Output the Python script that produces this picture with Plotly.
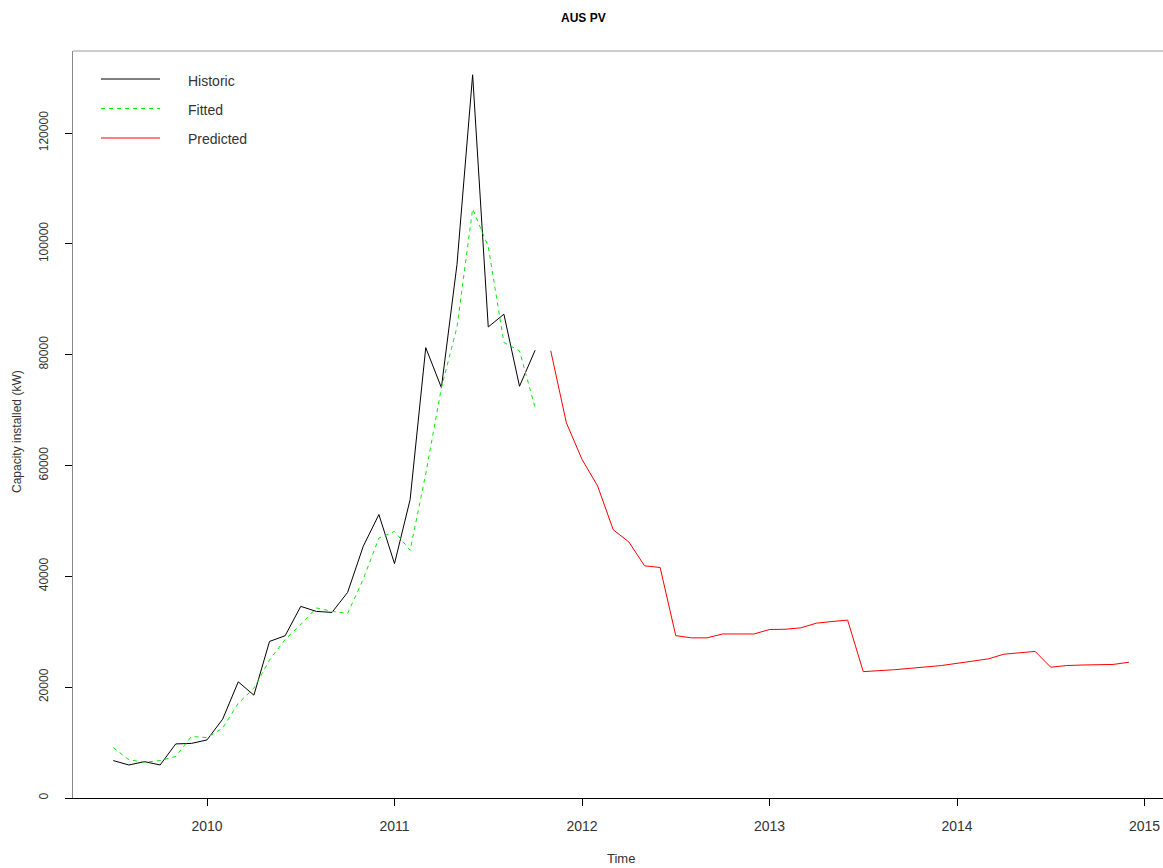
import plotly.graph_objects as go

# Monthly PV capacity installed in Australia (kW)
hist_start = (2009, 7)
historic = [6750, 5960, 6560, 5960, 9760, 9850, 10480, 14220, 20960, 18560,
            28250, 29280, 34580, 33670, 33490, 37110, 45420, 51150, 42290, 53860,
            81270, 74050, 96300, 130500, 85000, 87300, 74300, 80800]
fitted = [9100, 6900, 6450, 6750, 7500, 11100, 10900, 12600, 17100, 19800,
          24900, 28600, 31300, 34300, 33700, 33300, 39500, 46900, 48100, 44700,
          58500, 74000, 85000, 106300, 99500, 82200, 80700, 70400]

pred_start = (2011, 11)
predicted = [80700, 67700, 61100, 56300, 48400, 46200, 41900, 41600, 29300, 28900,
             28900, 29600, 29600, 29600, 30400, 30450, 30700, 31550, 31850, 32100,
             22800, 22950, 23150, 23400, 23600, 23900, 24300, 24700, 25100, 25950,
             26200, 26450, 23600, 23900, 24000, 24050, 24100, 24500]

year_ticks = [2010, 2011, 2012, 2013, 2014, 2015]
y_ticks = [0, 20000, 40000, 60000, 80000, 100000, 120000]
series_names = ["Historic", "Fitted", "Predicted"]
series_colors = ["#000000", "#00ee00", "#ff0000"]


def time_index(start, n):
    """Decimal-year time index for a monthly series."""
    y, m = start
    return [y + (m - 1 + k) / 12 for k in range(n)]


W, H = 1163, 868
L, R, T, B = 73, 0, 51, 70
plot_w, plot_h = W - L - R, H - T - B
FONT = "Liberation Sans, Arial, sans-serif"
TXT = "#333333"

fig = go.Figure()
fig.add_trace(go.Scatter(x=time_index(hist_start, len(historic)), y=historic,
                         mode="lines", name=series_names[0],
                         line=dict(color=series_colors[0], width=1)))
fig.add_trace(go.Scatter(x=time_index(hist_start, len(fitted)), y=fitted,
                         mode="lines", name=series_names[1],
                         line=dict(color=series_colors[1], width=1, dash="4px,4px")))
fig.add_trace(go.Scatter(x=time_index(pred_start, len(predicted)), y=predicted,
                         mode="lines", name=series_names[2],
                         line=dict(color=series_colors[2], width=1)))

# x range: 2010 sits 134 px right of the left frame, 187.5 px per year
px_per_year = 187.5
x0 = 2010 - 134 / px_per_year
x1 = x0 + plot_w / px_per_year
y1 = plot_h / (665 / 120000)

fig.update_layout(
    width=W, height=H,
    margin=dict(l=L, r=R, t=T, b=B),
    paper_bgcolor="white", plot_bgcolor="white",
    showlegend=False,
    font=dict(family=FONT, size=12, color=TXT),
    xaxis=dict(range=[x0, x1], tickvals=year_ticks,
               ticktext=[str(v) for v in year_ticks],
               showgrid=False, zeroline=False,
               showline=True, linecolor="#000000", linewidth=1,
               ticks="outside", ticklen=7, tickcolor="#000000", tickwidth=1,
               ticklabelstandoff=8,
               tickfont=dict(family=FONT, size=14, color=TXT)),
    yaxis=dict(range=[0, y1], tickvals=y_ticks,
               ticktext=[str(v) for v in y_ticks],
               showgrid=False, zeroline=False,
               showline=True, linecolor="#888888", linewidth=1,
               ticks="outside", ticklen=7, tickcolor="#000000", tickwidth=1,
               tickangle=-90, ticklabelstandoff=12,
               tickfont=dict(family=FONT, size=12, color=TXT)),
)

# top frame line
fig.add_shape(type="line", xref="paper", yref="paper", x0=0, x1=1, y0=1, y1=1,
              line=dict(color="#999999", width=1))


def px_x(px):
    return (px - L) / plot_w


def px_y(py):
    return (T + plot_h - py) / plot_h


# legend block in the upper-left corner
legend_rows = [(79, 80.5), (108.5, 110), (138, 139)]
for name, color, (line_y, text_y), dash in zip(series_names, series_colors, legend_rows,
                                               ["solid", "4px,4px", "solid"]):
    fig.add_shape(type="line", xref="paper", yref="paper",
                  x0=px_x(101), x1=px_x(160), y0=px_y(line_y), y1=px_y(line_y),
                  line=dict(color=color, width=1, dash=dash))
    fig.add_annotation(xref="paper", yref="paper", x=px_x(186), y=px_y(text_y),
                       text=name, showarrow=False, xanchor="left", yanchor="middle",
                       font=dict(family=FONT, size=14, color=TXT))

# title and axis titles
fig.add_annotation(xref="paper", yref="paper", x=px_x(583), y=px_y(18),
                   text="<b>AUS PV</b>", showarrow=False,
                   xanchor="center", yanchor="middle",
                   font=dict(family=FONT, size=12, color="#000000"))
fig.add_annotation(xref="paper", yref="paper", x=px_x(621), y=px_y(858),
                   text="Time", showarrow=False, xanchor="center", yanchor="middle",
                   font=dict(family=FONT, size=13, color=TXT))
fig.add_annotation(xref="paper", yref="paper", x=px_x(17), y=px_y(432),
                   text="Capacity installed (kW)", showarrow=False, textangle=-90,
                   xanchor="center", yanchor="middle",
                   font=dict(family=FONT, size=12, color=TXT))

fig.write_html("out.html")
